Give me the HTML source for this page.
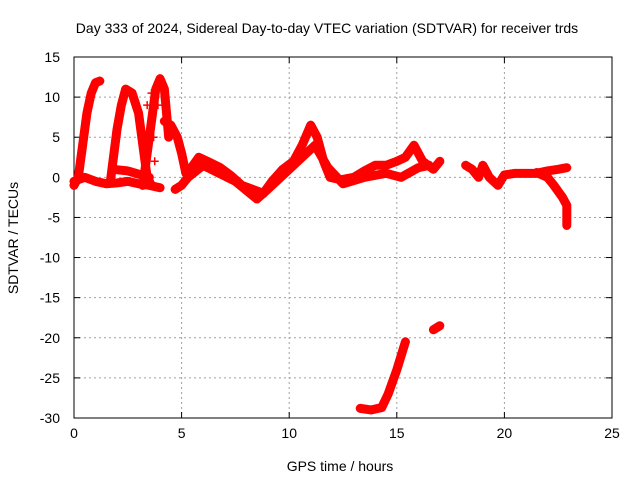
<!DOCTYPE html>
<html><head><meta charset="utf-8"><style>
body{margin:0;background:#fff}
svg{display:block;font-family:"Liberation Sans",sans-serif}
</style></head><body>
<svg id="c" width="640" height="480">
<text x="327" y="33" text-anchor="middle" font-size="14">Day 333 of 2024, Sidereal Day-to-day VTEC variation (SDTVAR) for receiver trds</text>
<text x="340" y="471" text-anchor="middle" font-size="14">GPS time / hours</text>
<text transform="translate(18,238) rotate(-90)" text-anchor="middle" font-size="14">SDTVAR / TECUs</text>
</svg>
<script>
const xTicks=[0,5,10,15,20,25];
const yTicks=[15,10,5,0,-5,-10,-15,-20,-25,-30];
const trackA=[[0,-1],[0.2,0],[0.4,4],[0.6,8],[0.8,10.5],[1.0,11.8],[1.2,12]];
const trackB=[[0,-0.5],[0.5,0],[1,-0.5],[1.5,-0.8],[2,-0.7],[2.5,-0.5],[3,-0.8],[3.5,-1],[4,-1.3]];
const trackC=[[1.7,-0.3],[2,6],[2.2,9],[2.4,11],[2.7,10.5],[3.0,8],[3.2,4],[3.4,0],[3.6,-1]];
const trackC2=[[1.8,1],[2.5,0.8],[3.5,0]];
const trackD=[[3.2,-1],[3.4,3],[3.6,7],[3.8,11],[4.0,12.3],[4.2,11],[4.3,8],[4.4,5]];
const trackD2=[[3.4,9],[3.6,10.5],[3.7,5],[3.75,2],[3.9,9]];
const trackE=[[4.2,7],[4.5,6.5],[4.8,5],[5.0,3],[5.2,0.5],[5.4,1],[5.8,2.5],[6.2,2],[6.8,1.2],[7.3,0.2],[7.8,-1],[8.3,-1.5],[8.8,-2],[9.2,-0.5],[9.7,1],[10.2,2],[10.6,4],[11.0,6.5],[11.3,5],[11.6,2],[11.9,0],[12.4,-0.3],[13,0],[13.5,0.8],[14,1.5],[14.5,1.5],[15,2],[15.4,2.5],[15.8,4],[16.2,2],[16.7,1],[17,2]];
const trackE2=[[4.7,-1.5],[5.0,-1.0],[5.3,0],[6,1.5],[7.5,-0.5],[8.5,-2.7],[9,-1.5],[10,1],[10.8,3],[11.2,4],[11.8,1.2],[12.5,-0.8],[13.5,0],[14.5,0.5],[15.2,0],[16,1.2],[16.5,1.5]];
const trackF=[[18.2,1.5],[18.5,1],[18.8,0],[19.0,1.5],[19.3,0],[19.7,-1],[20,0.3],[20.5,0.5],[21.5,0.5],[22,0.8],[22.5,1],[22.9,1.2]];
const trackF2=[[21.5,0.6],[22,0],[22.3,-1],[22.7,-2.5],[22.9,-3.5],[22.9,-6]];
const trackG=[[13.3,-28.8],[13.8,-29],[14.3,-28.7],[14.6,-27],[15,-24],[15.4,-20.5]];
const trackH=[[16.7,-19],[17,-18.5]];
const tracks=[trackA,trackB,trackC,trackC2,trackD,trackD2,trackE,trackE2,trackF,trackF2,trackG,trackH];
const thin=[false,false,false,false,false,true,false,false,false,false,false,false];

const L=74,R=612,T=57,B=418;
const xs=t=>L+t*(R-L)/25;
const ys=v=>T+(15-v)*(B-T)/45;
const svg=document.getElementById('c');
const NS='http://www.w3.org/2000/svg';
function mk(tag,attrs){const e=document.createElementNS(NS,tag);for(const k in attrs)e.setAttribute(k,attrs[k]);svg.appendChild(e);return e;}

xTicks.forEach(t=>{
  if(t>0&&t<25){const g=mk('line',{x1:xs(t),x2:xs(t),y1:T,y2:B,stroke:'#a0a0a0','stroke-dasharray':'2,3'});
  
  }
  const lb=mk('text',{x:xs(t),y:B+20,'text-anchor':'middle','font-size':'14'});lb.textContent=t;
  
  
  mk('line',{x1:xs(t),x2:xs(t),y1:B,y2:B-6,stroke:'#000'});mk('line',{x1:xs(t),x2:xs(t),y1:T,y2:T+6,stroke:'#000'});
});
yTicks.forEach(v=>{
  if(v<15&&v>-30){const g=mk('line',{x1:L,x2:R,y1:ys(v),y2:ys(v),stroke:'#a0a0a0','stroke-dasharray':'2,3'});
  
  }
  const lb=mk('text',{x:L-14,y:ys(v)+5,'text-anchor':'end','font-size':'14'});lb.textContent=v;
  
  
  mk('line',{x1:L,x2:L+6,y1:ys(v),y2:ys(v),stroke:'#000'});mk('line',{x1:R,x2:R-6,y1:ys(v),y2:ys(v),stroke:'#000'});
});
const fr=mk('rect',{x:L,y:T,width:R-L,height:B-T,fill:'none',stroke:'#000'});



tracks.forEach((tr,i)=>{
  if(!thin[i]){
    const p=mk('polyline',{points:tr.map(d=>xs(d[0])+','+ys(d[1])).join(' '),fill:'none',stroke:'#ff0000','stroke-width':9,'stroke-linejoin':'round','stroke-linecap':'round'});
    
    
  }
  tr.forEach(d=>{
    const x=xs(d[0]),y=ys(d[1]);
    const m=mk('path',{d:`M${x-4},${y}H${x+4}M${x},${y-4}V${y+4}`,stroke:'#ff0000','stroke-width':1.5});
    
    
  });
});
</script>
</body></html>
